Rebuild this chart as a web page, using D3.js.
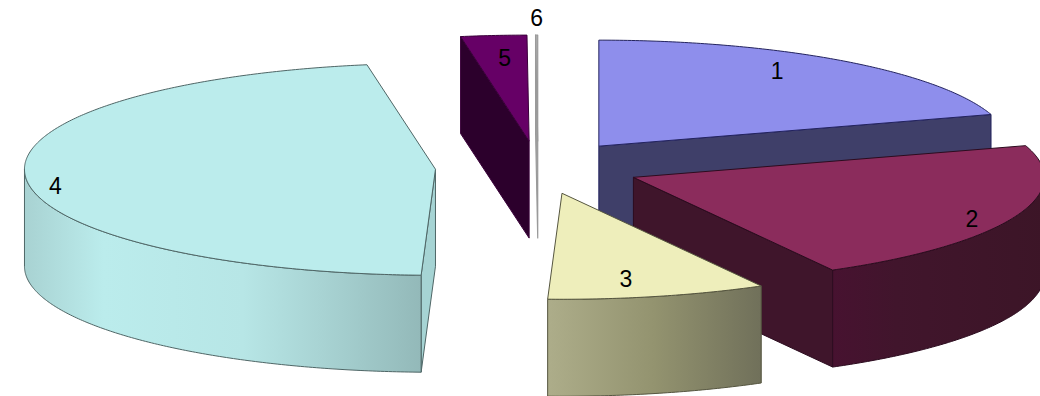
<!DOCTYPE html>
<html><head><meta charset="utf-8">
<script src="https://cdn.jsdelivr.net/npm/d3@7/dist/d3.min.js"></script>
<style>html,body{margin:0;padding:0;background:#fff;overflow:hidden}svg{display:block}</style>
</head><body><svg id="c" width="1040" height="396"></svg>
<script>
// Data
const labels = ["1","2","3","4","5","6"];
const values = [72.6, 78.4, 31, 168.4, 9.3, 0.3];
// Styling
const topColors    = ["#8e8eec","#8b2c5c","#eeeebb","#bbecec","#660066","#b0b0b0"];
const edgeColors   = ["#23235e","#2c0c1f","#55553f","#4f6666","#3a003a","#9a9a9a"];
const radialColors = ["#3f3f69","#3f152b","#70705a","#a6d4d4","#2c002c","#a0a0a0"];
const rimStops = [
  [[0,"#3f3f69"],[1,"#3f3f69"]],
  [[0,"#471230"],[0.3,"#41152c"],[1,"#3c1527"]],
  [[0,"#adad8a"],[0.5,"#93936f"],[1,"#70705a"]],
  [[0,"#a8d2d2"],[0.2,"#bbecec"],[0.55,"#b7e6e6"],[0.75,"#a8d3d3"],[1,"#93b9b9"]],
  [[0,"#2c002c"],[1,"#2c002c"]],
  [[0,"#a0a0a0"],[1,"#a0a0a0"]]
];
const labelNudge = [[-65,10],[-43,2],[-32,-17],[30,10],[11,23],[0,-17]];
// Projection of the tilted pie
const cx = 538, cy = 167.5, rx = 411, ry = 106, depth = 97, explode = 0.25;

const svg = d3.select("#c");
const defs = svg.append("defs");
const pie = d3.pie().sort(null).value(d => d);
const arcs = pie(values);
const proj = (o, t, r = 1) => [o[0] + rx * r * Math.sin(t), o[1] - ry * r * Math.cos(t)];
const line = d3.line();
const down = p => [p[0], p[1] + depth];
const sampleArc = (o, a, b) => {
  const n = Math.max(2, Math.ceil((b - a) / 0.01));
  return d3.range(n + 1).map(i => proj(o, a + (b - a) * i / n));
};
const wall = (pts) => line(pts.concat(pts.map(down).reverse())) + "Z";

arcs.forEach((d, i) => {
  const t0 = d.startAngle, t1 = d.endAngle, mid = (t0 + t1) / 2;
  const o = proj([cx, cy], mid, explode);
  const g = svg.append("g").attr("class", "slice");
  const sw = i === 5 ? 1.2 : 1;
  const stroke = edgeColors[i];
  // radial walls facing the viewer
  [[t0, t0 - Math.PI / 2], [t1, t1 + Math.PI / 2]].forEach(([t, n]) => {
    if (Math.cos(n) < -1e-3) {
      g.append("path").attr("d", wall([o, proj(o, t)]))
        .attr("fill", radialColors[i]).attr("stroke", stroke).attr("stroke-width", sw).attr("stroke-linejoin","round");
    }
  });
  // outer rim wall
  const a = Math.max(t0, Math.PI / 2), b = Math.min(t1, 3 * Math.PI / 2);
  if (b > a) {
    const pts = sampleArc(o, a, b);
    const xs = d3.extent(pts, p => p[0]);
    const id = "rim" + i;
    const gr = defs.append("linearGradient").attr("id", id)
      .attr("gradientUnits", "userSpaceOnUse")
      .attr("x1", xs[0]).attr("x2", xs[1]).attr("y1", 0).attr("y2", 0);
    rimStops[i].forEach(s => gr.append("stop").attr("offset", s[0]).attr("stop-color", s[1]));
    g.append("path").attr("d", wall(pts))
      .attr("fill", `url(#${id})`).attr("stroke", stroke).attr("stroke-width", sw);
  }
  // top face
  g.append("path").attr("d", line([o].concat(sampleArc(o, t0, t1))) + "Z")
    .attr("fill", topColors[i]).attr("stroke", stroke).attr("stroke-width", sw).attr("stroke-linejoin","round");
});

arcs.forEach((d, i) => {
  const mid = (d.startAngle + d.endAngle) / 2;
  const p = proj(proj([cx, cy], mid, explode), mid);
  svg.append("text").text(labels[i])
    .attr("x", p[0] + labelNudge[i][0]).attr("y", p[1] + labelNudge[i][1])
    .attr("text-anchor", "middle").attr("dominant-baseline", "central")
    .attr("font-family", "'Liberation Sans', Arial, sans-serif").attr("font-size", 23).attr("fill", "#000");
});
</script></body></html>
